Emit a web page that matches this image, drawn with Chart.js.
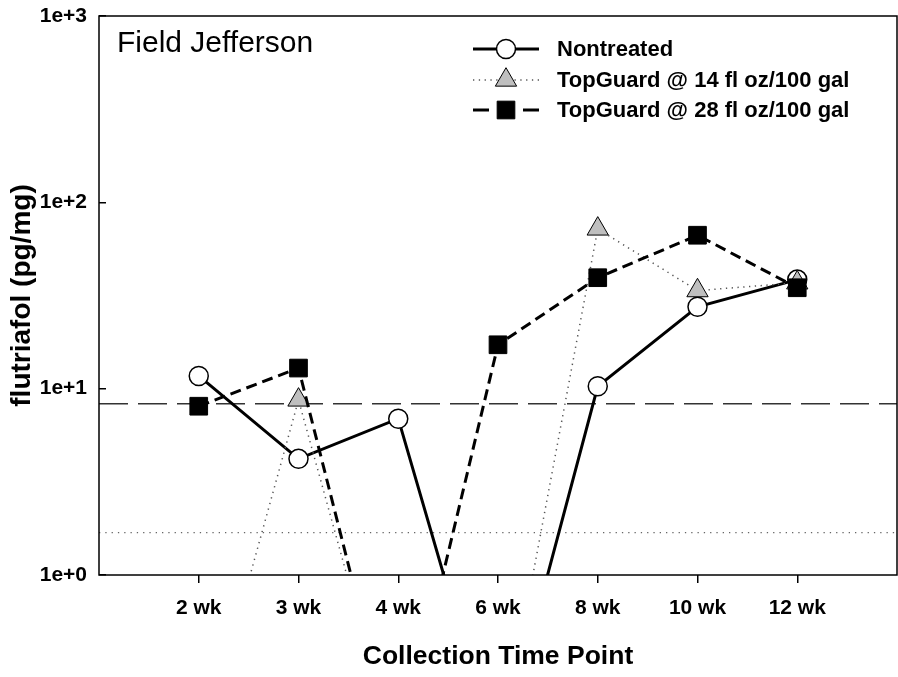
<!DOCTYPE html>
<html>
<head>
<meta charset="utf-8">
<script src="https://cdn.jsdelivr.net/npm/chart.js@4.4.0/dist/chart.umd.min.js"></script>
<style>
  body { margin: 0; background: #fff; }
  #wrap { width: 898px; height: 677px; }
</style>
</head>
<body>
<div id="wrap"><canvas id="chart" width="898" height="677"></canvas></div>
<script>
// Werte (pg/mg); 0.1 = unter der Achse (nicht nachgewiesen)
const timePoints = ['2 wk', '3 wk', '4 wk', '6 wk', '8 wk', '10 wk', '12 wk'];
const nontreated = [11.7, 4.2, 6.9, 0.1, 10.3, 27.5, 38.5];
const topGuard14 = [0.1, 8.7, 0.1, 0.1, 72, 33.6, 37];
const topGuard28 = [8.05, 12.9, 0.1, 17.2, 39.4, 66.6, 34.8];
const upperLimit = 8.3;   // lange gestrichelte Linie
const lowerLimit = 1.69;  // gepunktete Linie
const yTicks = [1, 10, 100, 1000];
const seriesNames = ['Nontreated', 'TopGuard @ 14 fl oz/100 gal', 'TopGuard @ 28 fl oz/100 gal'];
const panelTitle = 'Field Jefferson';
const xTitle = 'Collection Time Point';
const yTitle = 'flutriafol (pg/mg)';

const FONT = '"Liberation Sans", Arial, sans-serif';

function toPoints(values) {
    return values.map((v, i) => ({ x: i + 1, y: v }));
}
function hLine(value) {
    return [{ x: 0, y: value }, { x: timePoints.length + 1, y: value }];
}
// Chart.js soll keinen Rand fuer ueberstehende Beschriftungen einplanen
function noPadding(s) {
    s.paddingLeft = 0; s.paddingRight = 0; s.paddingTop = 0; s.paddingBottom = 0;
}

// Marker selbst zeichnen (gleiche Geometrie wie Chart.js)
function drawMarker(ctx, style, r, x, y) {
    ctx.beginPath();
    if (style === 'circle') {
        ctx.arc(x, y, r, 0, Math.PI * 2);
    } else if (style === 'triangle') {
        ctx.moveTo(x, y - r);
        ctx.lineTo(x + r * Math.sin(Math.PI * 2 / 3), y - r * Math.cos(Math.PI * 2 / 3));
        ctx.lineTo(x + r * Math.sin(Math.PI * 4 / 3), y - r * Math.cos(Math.PI * 4 / 3));
    } else {
        const s = r * Math.SQRT1_2;
        ctx.rect(x - s, y - s, 2 * s, 2 * s);
    }
    ctx.closePath();
    ctx.fill();
    ctx.stroke();
}

const framePlugin = {
    id: 'frame',
    afterDatasetsDraw(chart) {
        const a = chart.chartArea;
        const ctx = chart.ctx;
        ctx.save();
        ctx.strokeStyle = '#000';
        ctx.lineWidth = 1.5;
        ctx.strokeRect(a.left, a.top, a.right - a.left, a.bottom - a.top);
        ctx.restore();
    }
};

const textPlugin = {
    id: 'panelText',
    afterDraw(chart) {
        const ctx = chart.ctx;
        ctx.save();
        ctx.fillStyle = '#000';
        ctx.font = '30px ' + FONT;
        ctx.textBaseline = 'alphabetic';
        ctx.fillText(panelTitle, 117, 52);

        // Legende: Linie + Marker + Text
        const x0 = 473, x1 = 539, tx = 557;
        const rows = [49, 80, 110];
        const xm = (x0 + x1) / 2;
        chart.data.datasets.filter(d => d.inLegend).forEach((ds, i) => {
            const y = rows[i];
            ctx.strokeStyle = ds.borderColor;
            ctx.lineWidth = ds.borderWidth;
            ctx.setLineDash(ds.legendDash || []);
            ctx.beginPath(); ctx.moveTo(x0, y); ctx.lineTo(xm, y); ctx.stroke();
            ctx.beginPath(); ctx.moveTo(x1, y); ctx.lineTo(xm, y); ctx.stroke();
            ctx.setLineDash([]);
            ctx.fillStyle = ds.pointBackgroundColor;
            ctx.strokeStyle = ds.pointBorderColor;
            ctx.lineWidth = ds.pointBorderWidth;
            drawMarker(ctx, ds.pointStyle, ds.pointRadius, xm, y);
            ctx.fillStyle = '#000';
            ctx.font = 'bold 22px ' + FONT;
            ctx.textBaseline = 'middle';
            ctx.fillText(ds.label, tx, y + 1);
        });
        ctx.restore();
    }
};

const ctx = document.getElementById('chart');
new Chart(ctx, {
    type: 'line',
    data: {
        datasets: [
            { label: 'upper', data: hLine(upperLimit), borderColor: '#333', borderWidth: 1.5, borderDash: [29, 10], pointRadius: 0, order: 5, clip: 0 },
            { label: 'lower', data: hLine(lowerLimit), borderColor: '#666', borderWidth: 1.3, borderDash: [1.3, 5], pointRadius: 0, order: 4, clip: 0 },
            { label: seriesNames[0], inLegend: true, data: toPoints(nontreated), borderColor: '#000', borderWidth: 3,
              pointStyle: 'circle', pointRadius: 9.5, pointBackgroundColor: '#fff', pointBorderColor: '#000', pointBorderWidth: 1.5, order: 3, clip: 0 },
            { label: seriesNames[1], inLegend: true, data: toPoints(topGuard14), borderColor: '#555', borderWidth: 1.5, borderDash: [1.3, 4.5], legendDash: [1.3, 4.5],
              pointStyle: 'triangle', pointRadius: 12.3, pointBackgroundColor: '#bfbfbf', pointBorderColor: '#000', pointBorderWidth: 1, order: 2, clip: 0 },
            { label: seriesNames[2], inLegend: true, data: toPoints(topGuard28), borderColor: '#000', borderWidth: 3, borderDash: [11, 6], legendDash: [16, 40],
              pointStyle: 'rect', pointRadius: 12.5, pointBackgroundColor: '#000', pointBorderColor: '#000', pointBorderWidth: 1, order: 1, clip: 0 }
        ]
    },
    options: {
        responsive: false,
        animation: false,
        devicePixelRatio: 1,
        layout: { autoPadding: false, padding: { top: 16, right: 1, left: 0, bottom: 0 } },
        elements: { line: { tension: 0 } },
        plugins: { legend: { display: false }, tooltip: { enabled: false } },
        scales: {
            x: {
                type: 'linear', min: 0, max: timePoints.length + 1,
                afterBuildTicks: s => { s.ticks = timePoints.map((t, i) => ({ value: i + 1 })); },
                afterFit: s => { s.height = 102; noPadding(s); },
                border: { display: false },
                grid: { drawOnChartArea: false, tickLength: 8, color: '#000', lineWidth: 1.5 },
                ticks: { autoSkip: false, maxRotation: 0, padding: 13, color: '#000',
                         font: { family: FONT, size: 21, weight: 'bold' },
                         callback: v => timePoints[v - 1] || '' },
                title: { display: true, text: xTitle, color: '#000', font: { family: FONT, size: 26.5, weight: 'bold' }, padding: { top: 0, bottom: 4 } }
            },
            y: {
                type: 'logarithmic', min: 1, max: 1000,
                afterBuildTicks: s => { s.ticks = yTicks.map(v => ({ value: v })); },
                afterFit: s => { s.width = 99; noPadding(s); },
                border: { display: false },
                grid: { drawOnChartArea: false, tickLength: -7, color: '#000', lineWidth: 1.5 },
                ticks: { padding: 19, color: '#000', font: { family: FONT, size: 21, weight: 'bold' },
                         callback: v => '1e+' + Math.round(Math.log10(v)) },
                title: { display: true, text: yTitle, color: '#000', font: { family: FONT, size: 28, weight: 'bold' }, padding: { top: 5, bottom: 0 } }
            }
        }
    },
    plugins: [framePlugin, textPlugin]
});
</script>
</body>
</html>
